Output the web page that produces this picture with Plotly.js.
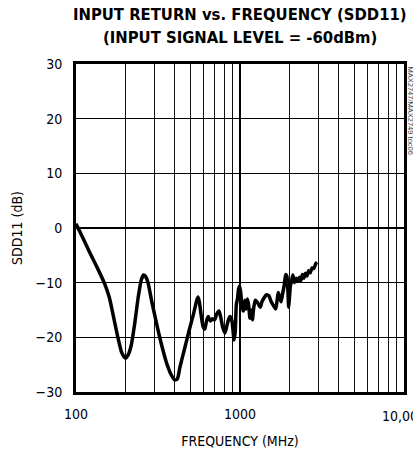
<!DOCTYPE html>
<html>
<head>
<meta charset="utf-8">
<script src="https://cdn.plot.ly/plotly-3.0.1.min.js"></script>
<style>html,body{margin:0;padding:0;background:#fff;}#chart{width:413px;height:459px;}</style>
</head>
<body>
<div id="chart"></div>
<script>
const freqMHz = [100,110,120,130,140,150,160,170,180,190,200,208,217,228,240,250,258,266,275,290,310,330,355,380,400,415,430,460,490,520,545,555,565,580,595,610,625,640,660,680,700,720,745,765,785,810,830,850,870,890,905,920,935,950,965,980,995,1010,1030,1050,1070,1090,1110,1130,1150,1170,1190,1210,1240,1270,1300,1330,1360,1400,1450,1500,1550,1600,1650,1680,1710,1740,1780,1820,1860,1900,1930,1960,1980,2000,2030,2060,2100,2150,2200,2250,2300,2350,2400,2450,2500,2560,2620,2680,2750,2820,2900,2950];
const sdd11dB = [0.8,-1.8,-4.2,-6.3,-8.3,-10.3,-12.8,-16.5,-20,-22.8,-23.8,-23.2,-21.5,-17.5,-12.5,-9.5,-8.6,-8.9,-10,-13.5,-17.5,-21,-24.5,-26.8,-27.8,-27.6,-25.5,-22,-18.7,-15.8,-13.2,-12.6,-13.5,-16,-18,-18.5,-17,-16.2,-17,-16.6,-16.8,-15.8,-15.2,-16.5,-18.2,-19.2,-18,-16.8,-16.2,-16.8,-18.5,-20.5,-19,-14,-13,-11.2,-10.6,-11.8,-14.5,-15.2,-13.2,-14.8,-13,-14.2,-16.5,-15,-16.8,-14.8,-13.2,-13.5,-14,-14.5,-13.5,-12.8,-12.2,-12.4,-13.5,-14.2,-14.8,-13.5,-11.8,-12.5,-13.5,-12,-10.5,-8.5,-8.8,-11.5,-14.5,-13,-10.5,-9.8,-8.6,-10,-9.2,-9.8,-9,-9.6,-8.5,-9.2,-8.3,-8.8,-7.8,-8.2,-7.3,-7.4,-6.5,-6.3];
const xTickVals = [100,1000];
const xTickText = ["100","1000"];
const xLastTick = 10000;
const xLastTickText = "10,000";
const xMinorVals = [200,300,400,500,600,700,800,900,2000,3000,4000,5000,6000,7000,8000,9000];
const yTickVals = [-30,-20,-10,0,10,20,30];
const titleLines = ["INPUT RETURN vs. FREQUENCY (SDD11)", "(INPUT SIGNAL LEVEL = -60dBm)"];
const xTitle = "FREQUENCY (MHz)";
const yTitle = "SDD11 (dB)";
const sideNote = "MAX2747/MAX2749 toc06";

const cond = "DejaVu Sans Condensed, Liberation Sans, sans-serif";
const trace = {x: freqMHz, y: sdd11dB, type: 'scatter', mode: 'lines',
  line: {color: '#000', width: 3.5, shape: 'spline', smoothing: 0.6}, hoverinfo: 'none'};

const titleFont = {family: cond, size: 16.5, color: '#000', weight: 'bold'};
const layout = {
  width: 413, height: 459,
  margin: {l: 76, r: 9, t: 64, b: 67},
  paper_bgcolor: '#fff', plot_bgcolor: '#fff',
  showlegend: false,
  xaxis: {type: 'log', range: [2, 4], tickmode: 'array', tickvals: xTickVals, ticktext: xTickText,
    showgrid: true, gridcolor: '#000', gridwidth: 1.2,
    minor: {tickmode: 'array', tickvals: xMinorVals, showgrid: true, gridcolor: '#111', gridwidth: 1.2, ticks: ''},
    showline: true, linecolor: '#000', linewidth: 3, mirror: true, ticks: '', zeroline: false,
    ticklabelstandoff: 7,
    tickfont: {family: cond, size: 14, color: '#000'},
    title: {text: xTitle, font: {family: cond, size: 14, color: '#000'}, standoff: 16}},
  yaxis: {range: [-30, 30], tickmode: 'array', tickvals: yTickVals,
    showgrid: true, gridcolor: '#000', gridwidth: 1.2, zeroline: false,
    showline: true, linecolor: '#000', linewidth: 3, mirror: true, ticks: '',
    ticklabelstandoff: 8,
    tickfont: {family: cond, size: 14, color: '#000'},
    title: {text: yTitle, font: {family: cond, size: 14, color: '#000'}, standoff: 10}},
  annotations: [
    {text: titleLines[0], xref: 'paper', yref: 'paper', x: 0.5, y: 1 + 50/328, xanchor: 'center', yanchor: 'middle',
     showarrow: false, font: titleFont},
    {text: titleLines[1], xref: 'paper', yref: 'paper', x: 0.5, y: 1 + 27/328, xanchor: 'center', yanchor: 'middle',
     showarrow: false, font: titleFont},
    {text: xLastTickText, xref: 'x', yref: 'paper', x: Math.log10(xLastTick), y: 0, yshift: -14,
     xanchor: 'center', yanchor: 'top', showarrow: false, font: {family: cond, size: 14, color: '#000'}},
    {text: sideNote, xref: 'paper', yref: 'paper', x: 1.0, xshift: 0, y: 1.0, xanchor: 'left', yanchor: 'top',
     textangle: 90, showarrow: false, font: {family: "Liberation Sans, sans-serif", size: 7.5, color: '#444'}}]
};
Plotly.newPlot('chart', [trace], layout, {staticPlot: true, displayModeBar: false});
</script>
</body>
</html>
